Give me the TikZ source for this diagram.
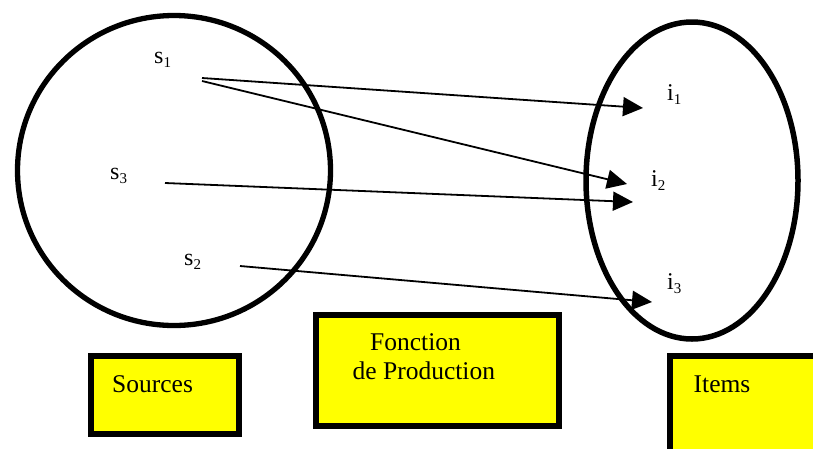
\documentclass[tikz,border=0pt]{standalone}
\usepackage{fontspec}
\setmainfont{Liberation Serif}
\usetikzlibrary{arrows.meta,shapes.geometric}
\definecolor{boxyellow}{RGB}{255,255,0}
\newcommand\lsub[1]{\raisebox{-4pt}{\fontsize{15}{15}\selectfont #1}}
\begin{document}
\begin{tikzpicture}[x=1pt,y=-1pt,
  setshape/.style={draw=black,ellipse,inner sep=0pt,outer sep=0pt},
  ybox/.style={draw=black,fill=boxyellow,line width=6pt,inner sep=0pt,outer sep=0pt},
  conn/.style={line width=1.8pt,-{Triangle[length=20pt,width=19pt]}},
  lbl/.style={inner sep=0pt,anchor=base west,font=\fontsize{24}{28}\selectfont},
  btxt/.style={inner sep=0pt,anchor=base west,font=\fontsize{25.5}{28.6}\selectfont}]
\useasboundingbox (0,0) rectangle (813,448);
\clip (0,0) rectangle (813,448);
% sets
\node[setshape,line width=5.3pt,minimum width=313pt,minimum height=310pt] (S) at (174,170.5) {};
\node[setshape,line width=5.5pt,minimum width=212pt,minimum height=317pt] (I) at (692,180.5) {};
% element labels
\node[lbl] (s1) at (154,63.3) {s\lsub{1}};
\node[lbl] (s3) at (110,179) {s\lsub{3}};
\node[lbl] (s2) at (184,265) {s\lsub{2}};
\node[lbl] (i1) at (667,100) {i\lsub{1}};
\node[lbl] (i2) at (651,186) {i\lsub{2}};
\node[lbl] (i3) at (667,289) {i\lsub{3}};
% connector ends
\coordinate (s1a) at (202,78);
\coordinate (s1b) at (202,81);
\coordinate (s3a) at (165,183);
\coordinate (s2a) at (240,266);
\coordinate (i1a) at (643,108);
\coordinate (i2a) at (627,184);
\coordinate (i2b) at (633,202);
\coordinate (i3a) at (652,302);
\draw[conn] (s1a) -- (i1a);
\draw[conn] (s1b) -- (i2a);
\draw[conn] (s3a) -- (i2b);
\draw[conn] (s2a) -- (i3a);
% boxes
\node[ybox,minimum width=148pt,minimum height=78pt] (srcbox) at (165,395) {};
\node[btxt] (srctxt) at (112,392.7) {Sources};
\node[ybox,minimum width=243.5pt,minimum height=111.5pt] (fnbox) at (437.25,370.25) {};
\node[btxt] (fntxt1) at (370,350.7) {Fonction};
\node[btxt] (fntxt2) at (352.5,379.3) {de Production};
\node[ybox,minimum width=200pt,minimum height=140pt] (itbox) at (770,426) {};
\node[btxt] (ittxt) at (693.5,392.7) {Items};
\end{tikzpicture}
\end{document}
